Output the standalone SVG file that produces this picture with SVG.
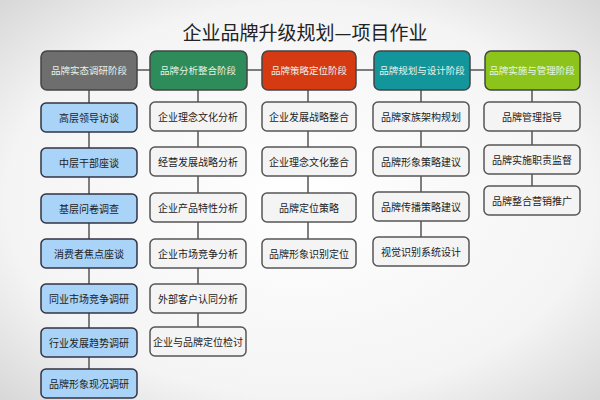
<svg xmlns="http://www.w3.org/2000/svg" width="600" height="400" viewBox="0 0 600 400">
<style>
text{font-family:"Noto Sans CJK SC","Noto Sans",sans-serif;text-anchor:middle;dominant-baseline:central}
.h{stroke:#444;stroke-width:1.5}
.ht{fill:#e8f4e8;font-size:9.5px}
.b{fill:#f4f4f4;stroke:#555;stroke-width:1.5}
.bl{fill:#a9d3f7;stroke:#334;stroke-width:1.5}
.t{fill:#222;font-size:10px}
.c{stroke:#555;stroke-width:1.5;fill:none}
</style>
<defs><radialGradient id="bg" cx="50%" cy="50%" r="70%"><stop offset="0" stop-color="#ffffff"/><stop offset="0.7" stop-color="#f4f4f4"/><stop offset="1" stop-color="#d8d8d8"/></radialGradient></defs>
<rect width="600" height="400" fill="url(#bg)"/>
<text x="305" y="31" style="font-size:19px;fill:#222">企业品牌升级规划—项目作业</text>
<g id="connectors">
<line class="c" x1="137" y1="70" x2="484" y2="70"/>
<line class="c" x1="89" y1="90" x2="89" y2="370"/>
<line class="c" x1="198" y1="90" x2="198" y2="330"/>
<line class="c" x1="308" y1="90" x2="308" y2="240"/>
<line class="c" x1="421" y1="90" x2="421" y2="240"/>
<line class="c" x1="532" y1="90" x2="532" y2="188"/>
</g>
<g id="h1"><rect class="h" x="41" y="51" width="96" height="39" rx="6" fill="#6e6e6e"/><text class="ht" x="89" y="70">品牌实态调研阶段</text></g>
<g id="h2"><rect class="h" x="150" y="51" width="97" height="39" rx="6" fill="#2e8b5a"/><text class="ht" x="198" y="70">品牌分析整合阶段</text></g>
<g id="h3"><rect class="h" x="262" y="51" width="94" height="39" rx="6" fill="#d63a12"/><text class="ht" x="309" y="70">品牌策略定位阶段</text></g>
<g id="h4"><rect class="h" x="374" y="51" width="96" height="39" rx="6" fill="#13959c"/><text class="ht" x="422" y="70">品牌规划与设计阶段</text></g>
<g id="h5"><rect class="h" x="485" y="51" width="95" height="39" rx="6" fill="#8dc41c"/><text class="ht" x="532" y="70">品牌实施与管理阶段</text></g>
<g id="c1">
<rect class="bl" x="41" y="103" width="96" height="29" rx="5"/><text class="t" x="89" y="117.5">高层领导访谈</text>
<rect class="bl" x="41" y="148" width="96" height="29" rx="5"/><text class="t" x="89" y="162.5">中层干部座谈</text>
<rect class="bl" x="41" y="194" width="96" height="29" rx="5"/><text class="t" x="89" y="208.5">基层问卷调查</text>
<rect class="bl" x="41" y="239" width="96" height="29" rx="5"/><text class="t" x="89" y="253.5">消费者焦点座谈</text>
<rect class="bl" x="41" y="284" width="96" height="29" rx="5"/><text class="t" x="89" y="298.5">同业市场竞争调研</text>
<rect class="bl" x="41" y="328" width="96" height="29" rx="5"/><text class="t" x="89" y="342.5">行业发展趋势调研</text>
<rect class="bl" x="41" y="369" width="96" height="29" rx="5"/><text class="t" x="89" y="383.5">品牌形象现况调研</text>
</g>
<g id="c2">
<rect class="b" x="150" y="102" width="96" height="29" rx="5"/><text class="t" x="198" y="116.5">企业理念文化分析</text>
<rect class="b" x="150" y="147" width="96" height="29" rx="5"/><text class="t" x="198" y="161.5">经营发展战略分析</text>
<rect class="b" x="150" y="193" width="96" height="29" rx="5"/><text class="t" x="198" y="207.5">企业产品特性分析</text>
<rect class="b" x="150" y="239" width="96" height="29" rx="5"/><text class="t" x="198" y="253.5">企业市场竞争分析</text>
<rect class="b" x="150" y="284" width="96" height="29" rx="5"/><text class="t" x="198" y="298.5">外部客户认同分析</text>
<rect class="b" x="150" y="327" width="96" height="29" rx="5"/><text class="t" x="198" y="341.5">企业与品牌定位检讨</text>
</g>
<g id="c3">
<rect class="b" x="262" y="102" width="94" height="29" rx="5"/><text class="t" x="309" y="116.5">企业发展战略整合</text>
<rect class="b" x="262" y="147" width="94" height="29" rx="5"/><text class="t" x="309" y="161.5">企业理念文化整合</text>
<rect class="b" x="262" y="193" width="94" height="29" rx="5"/><text class="t" x="309" y="207.5">品牌定位策略</text>
<rect class="b" x="262" y="239" width="94" height="29" rx="5"/><text class="t" x="309" y="253.5">品牌形象识别定位</text>
</g>
<g id="c4">
<rect class="b" x="373" y="102" width="96" height="29" rx="5"/><text class="t" x="421" y="116.5">品牌家族架构规划</text>
<rect class="b" x="373" y="147" width="96" height="29" rx="5"/><text class="t" x="421" y="161.5">品牌形象策略建议</text>
<rect class="b" x="373" y="192" width="96" height="29" rx="5"/><text class="t" x="421" y="206.5">品牌传播策略建议</text>
<rect class="b" x="373" y="237" width="96" height="29" rx="5"/><text class="t" x="421" y="251.5">视觉识别系统设计</text>
</g>
<g id="c5">
<rect class="b" x="484" y="102" width="96" height="29" rx="5"/><text class="t" x="532" y="116.5">品牌管理指导</text>
<rect class="b" x="484" y="145" width="96" height="29" rx="5"/><text class="t" x="532" y="159.5">品牌实施职责监督</text>
<rect class="b" x="484" y="186" width="96" height="29" rx="5"/><text class="t" x="532" y="200.5">品牌整合营销推广</text>
</g>
</svg>
